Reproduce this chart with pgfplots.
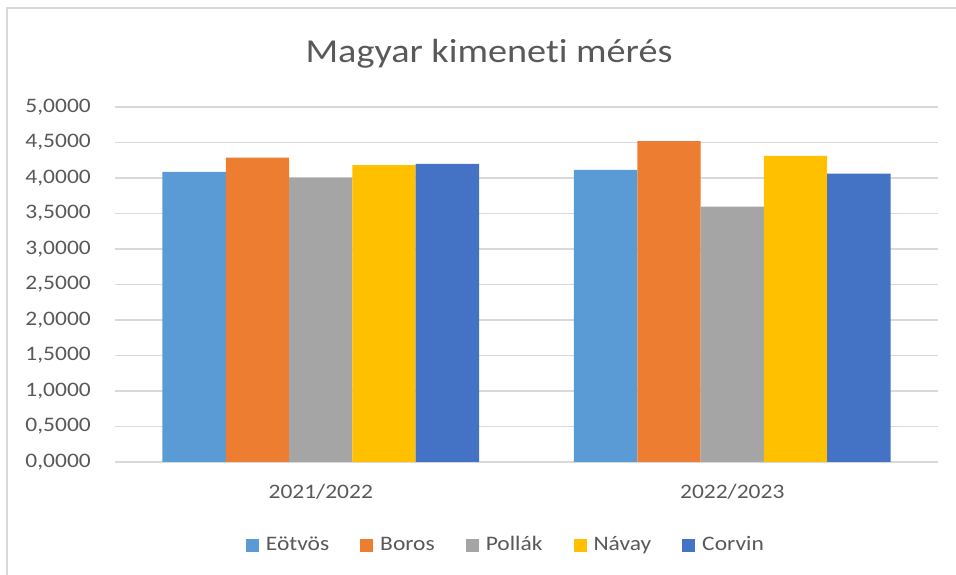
\documentclass[border=0pt]{standalone}
\usepackage{fontspec}
\setmainfont{Carlito}[FakeStretch=1.14]
\usepackage{pgfplots}
\pgfplotsset{compat=1.18}
\definecolor{cA}{HTML}{5B9BD5}
\definecolor{cB}{HTML}{ED7D31}
\definecolor{cC}{HTML}{A5A5A5}
\definecolor{cD}{HTML}{FFC000}
\definecolor{cE}{HTML}{4472C4}
\definecolor{gridgray}{HTML}{D9D9D9}
\definecolor{textgray}{HTML}{595959}
\begin{document}
\begin{tikzpicture}
\path[use as bounding box] (0,0) rectangle (956pt,575pt);
\draw[color=gridgray, line width=1.3pt] (7pt,0pt) -- (7pt,567pt) -- (956pt,567pt);
\node[anchor=base, text=textgray, font=\fontsize{33.5}{40}\selectfont] at (489pt,512pt) {Magyar kimenet\kern0pt i mérés};
\begin{axis}[
  at={(115pt,113pt)}, anchor=south west,
  scale only axis, width=823pt, height=355pt,
  xmin=-0.5, xmax=1.5, ymin=0, ymax=5,
  ytick={0,0.5,1,1.5,2,2.5,3,3.5,4,4.5,5},
  xtick={0,1}, xticklabels={2021/2022,2022/2023},
  axis line style={draw=none},
  tick style={draw=none},
  ymajorgrids, grid style={color=gridgray, line width=1.3pt},
  /pgf/number format/assume math mode=true,
  yticklabel={\pgfmathprintnumber[fixed, fixed zerofill, precision=4, use comma]{\tick}},
  ticklabel style={text=textgray, font=\fontsize{20.6}{24}\selectfont, inner sep=0pt},
  yticklabel style={anchor=east, xshift=-24pt},
  xticklabel style={anchor=north, yshift=-22pt},
  legend style={at={(0.475,-0.234)}, anchor=center, legend columns=5, draw=none,
    font=\fontsize{20.6}{24}\selectfont, text=textgray,
    nodes={text height=14pt, text depth=4pt},
    /tikz/every even column/.append style={column sep=29pt},
    /tikz/every odd column/.append style={column sep=5pt}},
  mybar/.style={ybar, bar width=0.1538, draw=none,
    legend image code/.code={\fill[##1] (0pt,-6.5pt) rectangle (13pt,6.5pt);}},
]
\addplot[mybar, bar shift=-0.3077, fill=cA] coordinates {(0,4.085) (1,4.113)};
\addplot[mybar, bar shift=-0.1538, fill=cB] coordinates {(0,4.286) (1,4.520)};
\addplot[mybar, bar shift=0, fill=cC] coordinates {(0,4.004) (1,3.596)};
\addplot[mybar, bar shift=0.1538, fill=cD] coordinates {(0,4.183) (1,4.310)};
\addplot[mybar, bar shift=0.3077, fill=cE] coordinates {(0,4.200) (1,4.060)};
\legend{Eötvös,Boros,Pollák,Návay,Corvin}
\end{axis}
\end{tikzpicture}
\end{document}
